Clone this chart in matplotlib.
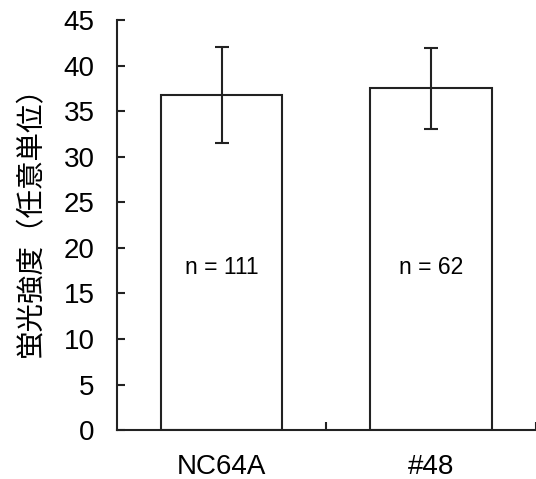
import numpy as np
import matplotlib
matplotlib.use("Agg")
from matplotlib import pyplot as plt

plt.rcParams['font.family'] = ['Liberation Sans', 'Noto Sans CJK JP']

strains = ["NC64A", "#48"]
means = [36.8, 37.5]
errors = [5.25, 4.4]
counts = ["n = 111", "n = 62"]
count_y = 17.8

ink = "#222222"

fig = plt.figure(figsize=(5.36, 4.79), dpi=100)
ax = fig.add_axes([0.218, 0.102, 0.782, 0.856])

x = np.arange(len(strains))
ax.bar(x, means, width=0.58, color="white", edgecolor=ink, linewidth=1.5,
       yerr=errors, error_kw=dict(ecolor=ink, elinewidth=1.5, capsize=5, capthick=1.5))

for xi, label in zip(x, counts):
    ax.text(xi, count_y, label, ha="center", va="center", fontsize=16.5, color="black")

ax.set_xlim(-0.5, 1.5)
ax.set_ylim(0, 45)
ax.set_yticks(np.arange(0, 46, 5))
ax.set_xticks(x)
ax.set_xticklabels(strains)
ax.set_xticks([0.5, 1.5], minor=True)

ax.tick_params(axis="y", direction="in", length=6, width=1.5, color=ink,
               labelsize=20, pad=16)
ax.tick_params(axis="x", which="major", length=0, labelsize=20, pad=17)
ax.tick_params(axis="x", which="minor", direction="in", length=6, width=1.5, color=ink)

for side in ["top", "right"]:
    ax.spines[side].set_visible(False)
for side in ["left", "bottom"]:
    ax.spines[side].set_linewidth(1.5)
    ax.spines[side].set_color(ink)

ax.set_ylabel("蛍光強度（任意単位）", fontsize=20.5, family=['Noto Sans CJK JP'])
ax.yaxis.set_label_coords(-0.168, 0.527)

fig.savefig("out.png", dpi=100)
